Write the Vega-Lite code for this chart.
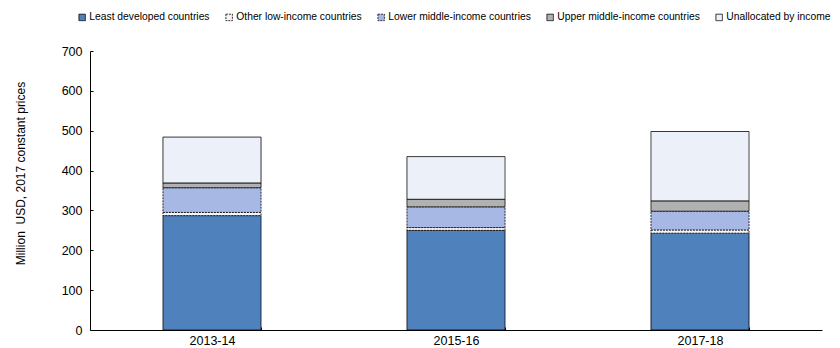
{
  "$schema": "https://vega.github.io/schema/vega-lite/v6.json",
  "autosize": "none",
  "width": 732,
  "height": 279,
  "padding": {"left": 90, "top": 51, "right": 18, "bottom": 18},
  "background": "white",
  "config": {
    "font": "Liberation Sans",
    "view": {"stroke": null},
    "axis": {"labelFont": "Liberation Sans", "titleFont": "Liberation Sans", "labelColor": "#000", "titleColor": "#000", "domainColor": "#000", "tickColor": "#000"}
  },
  "data": {
    "values": [
      {"period": "2013-14", "series": "Least developed countries", "value": 287},
      {"period": "2013-14", "series": "Other low-income countries", "value": 8},
      {"period": "2013-14", "series": "Lower middle-income countries", "value": 62},
      {"period": "2013-14", "series": "Upper middle-income countries", "value": 12},
      {"period": "2013-14", "series": "Unallocated by income", "value": 115},
      {"period": "2015-16", "series": "Least developed countries", "value": 250},
      {"period": "2015-16", "series": "Other low-income countries", "value": 7},
      {"period": "2015-16", "series": "Lower middle-income countries", "value": 52},
      {"period": "2015-16", "series": "Upper middle-income countries", "value": 19},
      {"period": "2015-16", "series": "Unallocated by income", "value": 107},
      {"period": "2017-18", "series": "Least developed countries", "value": 243},
      {"period": "2017-18", "series": "Other low-income countries", "value": 8},
      {"period": "2017-18", "series": "Lower middle-income countries", "value": 47},
      {"period": "2017-18", "series": "Upper middle-income countries", "value": 26},
      {"period": "2017-18", "series": "Unallocated by income", "value": 174}
    ]
  },
  "transform": [
    {"calculate": "indexof(['Least developed countries','Other low-income countries','Lower middle-income countries','Upper middle-income countries','Unallocated by income'], datum.series)", "as": "k"}
  ],
  "mark": {"type": "bar", "stroke": "#000", "strokeWidth": 0.8},
  "encoding": {
    "x": {
      "field": "period", "type": "nominal",
      "scale": {"paddingInner": 0.598, "paddingOuter": 0.299},
      "axis": {"title": null, "labelAngle": 0, "labelFontSize": 12.5, "tickBand": "extent", "tickSize": -3, "labelPadding": 7, "domainWidth": 1}
    },
    "y": {
      "field": "value", "type": "quantitative", "aggregate": "sum", "stack": "zero",
      "scale": {"domain": [0, 700], "nice": false},
      "axis": {
        "title": "Million\u00a0 USD, 2017 constant prices", "titleFontSize": 12, "titleFontWeight": "normal",
        "titleX": -70, "titleY": 122, "titleAngle": -90, "titleAlign": "center", "titleBaseline": "middle",
        "labelFontSize": 12.5, "values": [0, 100, 200, 300, 400, 500, 600, 700], "labelOverlap": false,
        "grid": false, "tickSize": -3, "labelPadding": 11, "domainWidth": 1
      }
    },
    "color": {
      "field": "series", "type": "nominal",
      "scale": {
        "domain": ["Least developed countries", "Other low-income countries", "Lower middle-income countries", "Upper middle-income countries", "Unallocated by income"],
        "range": ["#4f81bd", "#f4f4f4", "#a7b8e4", "#b1b1b1", "#ecf0f8"]
      },
      "legend": {
        "title": null, "orient": "none", "direction": "horizontal", "legendX": -13, "legendY": -39,
        "symbolType": "square", "symbolSize": 42, "symbolStrokeColor": "#000", "symbolStrokeWidth": 0.8,
        "labelFontSize": 10.3, "labelColor": "#000", "columnPadding": 14, "labelOffset": 2, "symbolOpacity": 1
      }
    },
    "strokeDash": {
      "field": "series", "type": "nominal",
      "scale": {
        "domain": ["Least developed countries", "Other low-income countries", "Lower middle-income countries", "Upper middle-income countries", "Unallocated by income"],
        "range": [[1, 0], [2, 1], [2, 1], [1, 0], [1, 0]]
      },
      "legend": null
    },
    "order": {"field": "k", "type": "quantitative", "sort": "ascending"}
  }
}
